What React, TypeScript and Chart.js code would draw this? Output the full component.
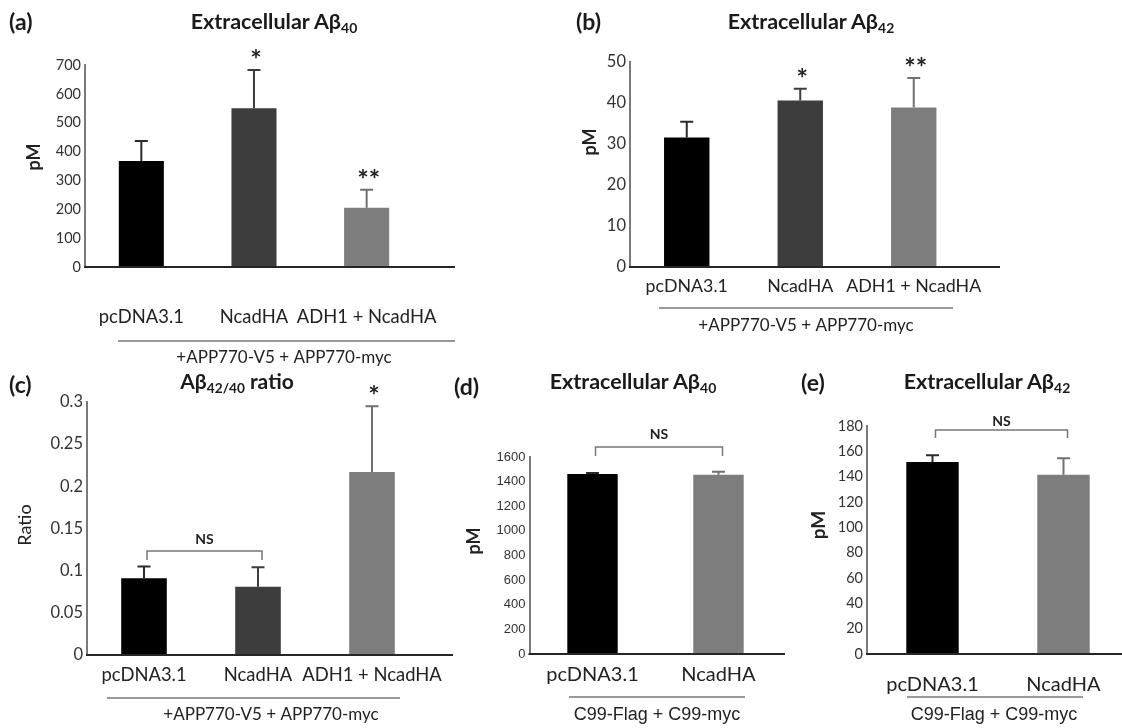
import React, { useEffect, useRef } from "react";
import { Chart, registerables } from "chart.js";
Chart.register(...registerables);

// ---------- data ----------
const CATS_3 = ["pcDNA3.1", "NcadHA", "ADH1 + NcadHA"];
const CATS_2 = ["pcDNA3.1", "NcadHA"];

const A_MEAN = [367, 550, 205];
const A_ERR = [70, 133, 63];
const A_SIG = ["", "*", "**"];
const A_YTICKS = [0, 100, 200, 300, 400, 500, 600, 700];

const B_MEAN = [31.6, 40.6, 38.9];
const B_ERR = [3.8, 2.9, 7.2];
const B_SIG = ["", "*", "**"];
const B_YTICKS = [0, 10, 20, 30, 40, 50];

const C_MEAN = [0.091, 0.081, 0.217];
const C_ERR = [0.014, 0.023, 0.078];
const C_SIG = ["", "", "*"];
const C_YTICKS = [0, 0.05, 0.1, 0.15, 0.2, 0.25, 0.3];

const D_MEAN = [1462, 1456];
const D_ERR = [8, 25];
const D_SIG = ["", ""];
const D_YTICKS = [0, 200, 400, 600, 800, 1000, 1200, 1400, 1600];

const E_MEAN = [151.5, 141.5];
const E_ERR = [5.5, 13];
const E_SIG = ["", ""];
const E_YTICKS = [0, 20, 40, 60, 80, 100, 120, 140, 160, 180];

const GROUP_APP = "+APP770-V5 + APP770-myc";
const GROUP_C99 = "C99-Flag + C99-myc";

// ---------- styling / layout ----------
const COL3 = ["#000000", "#3d3d3d", "#7d7d7d"];
const ERRCOL3 = ["#2a2a2a", "#3d3d3d", "#707070"];
const COL2 = ["#000000", "#7d7d7d"];
const ERRCOL2 = ["#2a2a2a", "#707070"];
const SANS = "'Liberation Sans', Arial, sans-serif";

type Panel = {
  id: string;
  cats: string[];
  mean: number[];
  err: number[];
  sig: string[];
  yTicks: number[];
  colors: string[];
  errColors: string[];
  box: number[];
  area: number[];
  axisEnd: number;
  tickFont: any;
  catFont: any;
  catPad: number;
  yTitle: string;
  yTitlePos: number[];
  yTitleFont: string;
  group: { text: string; x1: number; x2: number; lineY: number; textX: number; textY: number; font: string };
  ns?: { y: number; drop: number; textY: number };
};

const PANELS: Panel[] = [
  {
    id: "a", cats: CATS_3, mean: A_MEAN, err: A_ERR, sig: A_SIG, yTicks: A_YTICKS,
    colors: COL3, errColors: ERRCOL3,
    box: [0, 0, 480, 370], area: [85, 65, 452.5, 267], axisEnd: 455,
    tickFont: { family: "Lato", size: 14.5 }, catFont: { family: "Lato", size: 18.4 }, catPad: 39,
    yTitle: "pM", yTitlePos: [34, 157], yTitleFont: "bold 18px Lato",
    group: { text: GROUP_APP, x1: 118, x2: 455, lineY: 341, textX: 284, textY: 358, font: "17px Lato" },
  },
  {
    id: "b", cats: CATS_3, mean: B_MEAN, err: B_ERR, sig: B_SIG, yTicks: B_YTICKS,
    colors: COL3, errColors: ERRCOL3,
    box: [500, 0, 622, 370], area: [630, 62, 970.5, 267], axisEnd: 1000,
    tickFont: { family: "Lato", size: 16.5 }, catFont: { family: "Lato", size: 17.8 }, catPad: 9,
    yTitle: "pM", yTitlePos: [590, 142], yTitleFont: "bold 18px Lato",
    group: { text: GROUP_APP, x1: 659, x2: 953, lineY: 308, textX: 806, textY: 326, font: "17px Lato" },
  },
  {
    id: "c", cats: CATS_3, mean: C_MEAN, err: C_ERR, sig: C_SIG, yTicks: C_YTICKS,
    colors: COL3, errColors: ERRCOL3,
    box: [0, 365, 470, 363], area: [87, 402, 429, 655], axisEnd: 453,
    tickFont: { family: "Lato", size: 16.5 }, catFont: { family: "Lato", size: 18.4 }, catPad: 9,
    yTitle: "Ratio", yTitlePos: [25, 525], yTitleFont: "18px Lato",
    group: { text: GROUP_APP, x1: 107, x2: 400, lineY: 698, textX: 271, textY: 715, font: "17px Lato" },
    ns: { y: 551, drop: 9, textY: 539 },
  },
  {
    id: "d", cats: CATS_2, mean: D_MEAN, err: D_ERR, sig: D_SIG, yTicks: D_YTICKS,
    colors: COL2, errColors: ERRCOL2,
    box: [460, 365, 330, 363], area: [529.5, 457, 781.5, 654], axisEnd: 785,
    tickFont: { family: SANS, size: 13 }, catFont: { family: "Lato", size: 20 }, catPad: 9,
    yTitle: "pM", yTitlePos: [474, 541], yTitleFont: "bold 18px Lato",
    group: { text: GROUP_C99, x1: 569, x2: 745, lineY: 697, textX: 657, textY: 715, font: "18px " + SANS },
    ns: { y: 447, drop: 9, textY: 434 },
  },
  {
    id: "e", cats: CATS_2, mean: E_MEAN, err: E_ERR, sig: E_SIG, yTicks: E_YTICKS,
    colors: COL2, errColors: ERRCOL2,
    box: [800, 365, 330, 363], area: [867, 426, 1129, 654], axisEnd: 1130,
    tickFont: { family: "Lato", size: 14.5 }, catFont: { family: "Lato", size: 20 }, catPad: 19,
    yTitle: "pM", yTitlePos: [819, 525], yTitleFont: "bold 19px Lato",
    group: { text: GROUP_C99, x1: 907, x2: 1083, lineY: 697, textX: 994, textY: 715, font: "18px " + SANS },
    ns: { y: 430, drop: 8, textY: 421 },
  },
];

function makeAnnot(p: Panel) {
  const ox = p.box[0];
  const oy = p.box[1];
  return {
    id: "annot_" + p.id,
    afterDatasetsDraw(chart: any) {
      const { ctx, scales, chartArea } = chart;
      const x = scales.x;
      const y = scales.y;
      ctx.save();
      // x axis line
      ctx.strokeStyle = "#262626";
      ctx.lineWidth = 2;
      ctx.beginPath();
      ctx.moveTo(chartArea.left - 1, chartArea.bottom);
      ctx.lineTo(p.axisEnd - ox, chartArea.bottom);
      ctx.stroke();
      // error bars + significance
      p.mean.forEach((m, i) => {
        const cx = x.getPixelForValue(i);
        const yb = y.getPixelForValue(m);
        const yt = y.getPixelForValue(m + p.err[i]);
        ctx.strokeStyle = p.errColors[i];
        ctx.lineWidth = 2;
        ctx.beginPath();
        ctx.moveTo(cx, yb);
        ctx.lineTo(cx, yt);
        ctx.moveTo(cx - 6.5, yt);
        ctx.lineTo(cx + 6.5, yt);
        ctx.stroke();
        if (p.sig[i]) {
          ctx.fillStyle = "#222";
          ctx.font = "bold 27px Lato";
          ctx.textAlign = "center";
          ctx.textBaseline = "alphabetic";
          ctx.fillText(p.sig[i], cx + 2, yt - 1);
        }
      });
      // NS bracket
      if (p.ns) {
        const x1 = x.getPixelForValue(0) + 3;
        const x2 = x.getPixelForValue(1) + 4;
        const by = p.ns.y - oy;
        ctx.strokeStyle = "#777";
        ctx.lineWidth = 1.5;
        ctx.beginPath();
        ctx.moveTo(x1, by + p.ns.drop);
        ctx.lineTo(x1, by);
        ctx.lineTo(x2, by);
        ctx.lineTo(x2, by + p.ns.drop);
        ctx.stroke();
        ctx.fillStyle = "#222";
        ctx.font = "bold 14px Lato";
        ctx.textAlign = "center";
        ctx.textBaseline = "middle";
        ctx.fillText("NS", (x1 + x2) / 2, p.ns.textY - oy);
      }
      // group line + label
      const g = p.group;
      ctx.strokeStyle = "#777";
      ctx.lineWidth = 1.5;
      ctx.beginPath();
      ctx.moveTo(g.x1 - ox, g.lineY - oy);
      ctx.lineTo(g.x2 - ox, g.lineY - oy);
      ctx.stroke();
      ctx.fillStyle = "#222";
      ctx.font = g.font;
      ctx.textAlign = "center";
      ctx.textBaseline = "middle";
      ctx.fillText(g.text, g.textX - ox, g.textY - oy);
      // y axis title
      ctx.translate(p.yTitlePos[0] - ox, p.yTitlePos[1] - oy);
      ctx.rotate(-Math.PI / 2);
      ctx.font = p.yTitleFont;
      ctx.fillStyle = "#222";
      ctx.textAlign = "center";
      ctx.textBaseline = "middle";
      ctx.fillText(p.yTitle, 0, 0);
      ctx.restore();
    },
  };
}

function PanelChart({ p }: { p: Panel }) {
  const ref = useRef<HTMLCanvasElement>(null);
  useEffect(() => {
    const [bx, by, bw, bh] = p.box;
    const [L, T, R, B] = p.area;
    const chart = new Chart(ref.current as HTMLCanvasElement, {
      type: "bar",
      data: {
        labels: p.cats,
        datasets: [
          {
            data: p.mean,
            backgroundColor: p.colors,
            borderWidth: 0,
            barPercentage: 0.4,
            categoryPercentage: 1,
          },
        ],
      },
      options: {
        responsive: false,
        animation: false,
        events: [],
        layout: { padding: { left: 0, top: T - by, right: bx + bw - R, bottom: 0 } },
        plugins: { legend: { display: false }, tooltip: { enabled: false } },
        scales: {
          x: {
            type: "category",
            offset: true,
            grid: { display: false, drawTicks: false },
            border: { display: false },
            ticks: { font: p.catFont, color: "#222", padding: p.catPad, maxRotation: 0, minRotation: 0, autoSkip: false },
            afterFit: (s: any) => {
              s.height = by + bh - B;
            },
          },
          y: {
            type: "linear",
            min: 0,
            max: p.yTicks[p.yTicks.length - 1],
            grid: { display: false, drawTicks: false },
            border: { display: true, color: "#7a7a7a", width: 2 },
            ticks: { font: p.tickFont, color: "#333", padding: 4, callback: (v: any) => String(v) },
            afterBuildTicks: (s: any) => {
              s.ticks = p.yTicks.map((v) => ({ value: v }));
            },
            afterFit: (s: any) => {
              s.width = L - bx;
            },
          },
        },
      } as any,
      plugins: [makeAnnot(p)],
    });
    return () => chart.destroy();
  }, [p]);
  return (
    <canvas
      ref={ref}
      width={p.box[2]}
      height={p.box[3]}
      style={{ position: "absolute", left: p.box[0], top: p.box[1], width: p.box[2], height: p.box[3] }}
    />
  );
}

const sub: React.CSSProperties = { fontSize: "0.65em", verticalAlign: "-0.3em" };

function Label({ x, y, children, size = 22, left = false }: any) {
  return (
    <div
      style={{
        position: "absolute",
        left: x,
        top: y,
        transform: left ? "translate(0, -50%)" : "translate(-50%, -50%)",
        fontWeight: 700,
        fontSize: size,
        lineHeight: 1,
        whiteSpace: "nowrap",
        color: "#1a1a1a",
        fontFamily: "Lato, sans-serif",
      }}
    >
      {children}
    </div>
  );
}

export default function App() {
  return (
    <div
      style={{
        position: "fixed",
        left: 0,
        top: 0,
        width: 1122,
        height: 728,
        overflow: "hidden",
        background: "#fff",
        fontFamily: "Lato, sans-serif",
      }}
    >
      {PANELS.map((p) => (
        <PanelChart key={p.id} p={p} />
      ))}
      <Label x={9} y={21} left size={23}>(a)</Label>
      <Label x={576} y={21} left size={23}>(b)</Label>
      <Label x={9} y={384} left size={23}>(c)</Label>
      <Label x={454} y={386} left size={23}>(d)</Label>
      <Label x={801} y={382} left size={23}>(e)</Label>
      <Label x={274} y={23} size={21.5}>
        Extracellular Aβ<span style={sub}>40</span>
      </Label>
      <Label x={811} y={23} size={21.5}>
        Extracellular Aβ<span style={sub}>42</span>
      </Label>
      <Label x={237} y={383} size={21}>
        Aβ<span style={sub}>42/40</span> ratio
      </Label>
      <Label x={633} y={383} size={21.5}>
        Extracellular Aβ<span style={sub}>40</span>
      </Label>
      <Label x={987} y={383} size={21.5}>
        Extracellular Aβ<span style={sub}>42</span>
      </Label>
    </div>
  );
}
